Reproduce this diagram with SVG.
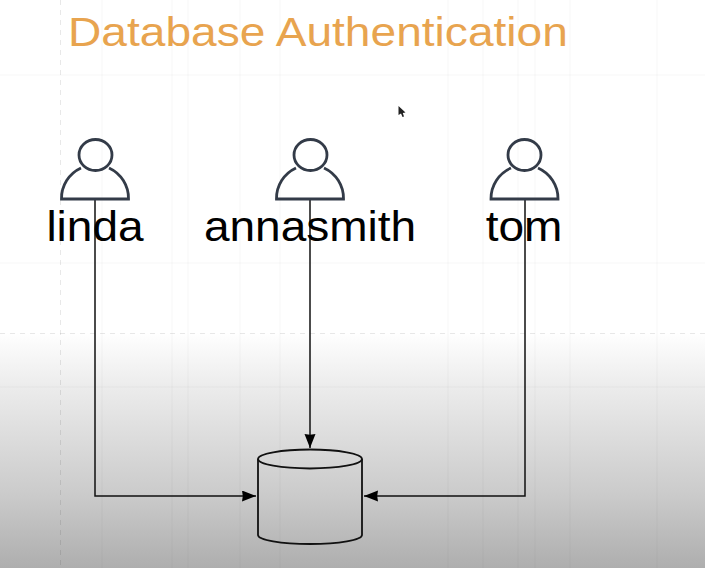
<svg xmlns="http://www.w3.org/2000/svg" width="705" height="568" viewBox="0 0 705 568">
<style>
.grid{stroke:#000;stroke-opacity:.035;stroke-width:1;fill:none}
.dash{stroke-dasharray:5 5;stroke-opacity:.09}
.user{fill:none;stroke:#333b48;stroke-width:2.8}
.label{font-family:"Liberation Sans",Arial,sans-serif;font-size:43px;fill:#000;text-anchor:middle}
.conn{fill:none;stroke:#111;stroke-width:1.5}
.db{fill:none;stroke:#111;stroke-width:1.8}
</style>
<defs>
<linearGradient id="bg" x1="0" y1="0" x2="0" y2="1">
<stop offset="0" stop-color="#fff"/>
<stop offset="0.585" stop-color="#fff"/>
<stop offset="0.68" stop-color="#ececec"/>
<stop offset="0.87" stop-color="#cbcbcb"/>
<stop offset="1" stop-color="#aeaeae"/>
</linearGradient>
<marker id="arrow" markerUnits="userSpaceOnUse" markerWidth="15" markerHeight="12" refX="14" refY="5.500" orient="auto">
<path d="M0 0L14 5.500L0 11L0.800 5.500Z" fill="#000"/>
</marker>
</defs>
<rect width="705" height="568" fill="url(#bg)"/>
<g id="grid">
<path class="grid" d="M102 0V568M172 0V568M188 0V568M240 0V568M280 0V568M448 0V568M483 0V568M518 0V568M535 0V568M570 0V568M657 0V568M0 75H705M0 263H705M0 387H705"/>
<path class="grid dash" d="M60.500 0V568M0 333.500H705"/>
</g>
<text id="title" transform="translate(68 46) scale(1.125 1)" font-family="'Liberation Sans',Arial,sans-serif" font-size="41" fill="#e8a44f">Database Authentication</text>
<path id="cursor" d="M398.500 106L398.500 115L401 113.500L402.500 117L404 116.500L402.800 113L405.500 112.500Z" fill="#222"/>
<g id="connectors">
<path class="conn" d="M95 200V496H256" marker-end="url(#arrow)"/>
<path class="conn" d="M310 200V448" marker-end="url(#arrow)"/>
<path class="conn" d="M525 200V496H364" marker-end="url(#arrow)"/>
</g>
<g id="linda">
<ellipse class="user" cx="95.500" cy="155" rx="16.500" ry="15.500"/>
<path class="user" d="M109 168A33.500 33.500 0 0 1 128.500 199H61.500A33.500 33.500 0 0 1 81 168"/>
<text class="label" transform="translate(95 241) scale(1.07 1)">linda</text>
</g>
<g id="annasmith">
<ellipse class="user" cx="310.500" cy="155" rx="16.500" ry="15.500"/>
<path class="user" d="M324 168A33.500 33.500 0 0 1 343.500 199H276.500A33.500 33.500 0 0 1 296 168"/>
<text class="label" transform="translate(310 241) scale(1.07 1)">annasmith</text>
</g>
<g id="tom">
<ellipse class="user" cx="524.500" cy="155" rx="16.500" ry="15.500"/>
<path class="user" d="M538 168A33.500 33.500 0 0 1 558 199H491A33.500 33.500 0 0 1 511 168"/>
<text class="label" transform="translate(524 241) scale(1.07 1)">tom</text>
</g>
<g id="database">
<ellipse class="db" cx="310" cy="459" rx="52" ry="9.500"/>
<path class="db" d="M258 459V535C258 540 281 544 310 544C339 544 362 540 362 535V459"/>
</g>
</svg>
